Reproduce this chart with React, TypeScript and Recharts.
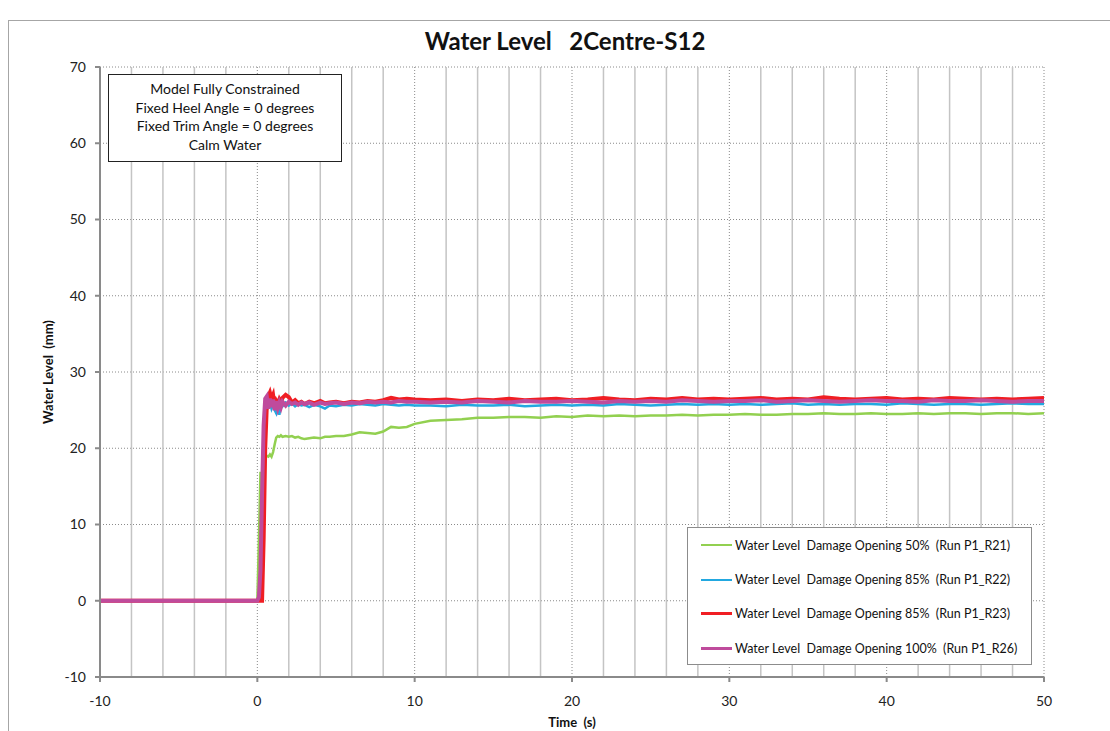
import {
  LineChart,
  Line,
  XAxis,
  YAxis,
  CartesianGrid,
  ReferenceLine,
  Legend,
} from "recharts";

const times = [
  -10, 0, 0.1, 0.2, 0.3, 0.4, 0.5, 0.6, 0.7, 0.8, 0.9, 1.0, 1.1, 1.2, 1.3, 1.4, 1.5, 1.6,
  1.8, 2.0, 2.2, 2.4, 2.6, 2.8, 3.0, 3.3, 3.6, 4.0, 4.3, 4.6, 5.0, 5.5, 6.0, 6.5, 7.0, 7.5,
  8.0, 8.5, 9.0, 9.5, 10, 11, 12, 13, 14, 15, 16, 17, 18, 19, 20, 21, 22, 23, 24, 25, 26,
  27, 28, 29, 30, 31, 32, 33, 34, 35, 36, 37, 38, 39, 40, 41, 42, 43, 44, 45, 46, 47, 48,
  49, 50,
];

const run21 = [
  0, 0, 8, 16.9, 14.5, 17.5, 18.8, 19.0, 18.9, 19.2, 18.9, 19.5, 20.5, 21.4, 21.6, 21.5,
  21.7, 21.5, 21.6, 21.5, 21.6, 21.4, 21.5, 21.3, 21.2, 21.3, 21.4, 21.3, 21.5, 21.5, 21.6,
  21.6, 21.8, 22.1, 22.0, 21.9, 22.2, 22.8, 22.7, 22.8, 23.2,
  23.6, 23.7, 23.8, 24.0, 24.0, 24.1, 24.1, 24.0, 24.2, 24.1, 24.3, 24.2, 24.3, 24.2, 24.3,
  24.3, 24.4, 24.3, 24.4, 24.4, 24.5, 24.4, 24.4, 24.5, 24.5, 24.6, 24.5, 24.5, 24.6, 24.5,
  24.5, 24.6, 24.5, 24.6, 24.6, 24.5, 24.6, 24.6, 24.5, 24.6,
];

const run22 = [
  0, 0, 0, 0, 2, 12, 22, 26.2, 25.5, 26.0, 25.2, 25.8, 25.0, 24.6, 25.6, 24.4, 25.8, 25.5,
  26.0, 25.6, 25.9, 25.5, 25.8, 25.6, 25.7, 25.4, 25.7, 25.5, 25.2, 25.6, 25.5, 25.7, 25.6,
  25.8, 25.7, 25.6, 25.8, 25.7, 25.6, 25.7, 25.6,
  25.6, 25.5, 25.7, 25.6, 25.6, 25.7, 25.5, 25.6, 25.7, 25.6, 25.7, 25.6, 25.8, 25.7, 25.6,
  25.7, 25.8, 25.7, 25.8, 25.7, 25.8, 25.7, 25.8, 25.9, 25.7, 25.8, 25.7, 25.8, 25.8, 25.7,
  25.9, 25.8, 25.7, 25.8, 25.8, 25.7, 25.8, 25.9, 25.8, 25.8,
];

const run23 = [
  0, 0, 0, 0, 0, 8, 20, 25.5, 26.8, 27.3, 26.5, 27.0, 25.5, 26.2, 25.8, 26.4, 26.0, 26.6,
  27.0, 26.7, 26.0, 26.3, 25.9, 26.1, 25.8, 26.1, 25.9, 26.2, 25.9, 26.0, 26.1, 25.9, 26.1,
  26.0, 26.2, 26.1, 26.3, 26.6, 26.4, 26.5, 26.4,
  26.3, 26.4, 26.2, 26.4, 26.3, 26.5, 26.3, 26.4, 26.5, 26.3, 26.4, 26.6, 26.4, 26.3, 26.5,
  26.4, 26.6, 26.4, 26.5, 26.4, 26.5, 26.6, 26.4, 26.5, 26.4, 26.7, 26.5, 26.4, 26.5, 26.6,
  26.4, 26.5, 26.4, 26.6, 26.5, 26.4, 26.5, 26.4, 26.5, 26.6,
];

const run26 = [
  0, 0, 0.5, 4, 14, 23, 26.5, 26.8, 25.2, 26.5, 25.4, 26.4, 25.0, 26.2, 25.3, 26.0, 25.4,
  26.1, 25.6, 26.1, 25.8, 26.0, 25.7, 26.0, 25.8, 26.0, 25.7, 26.0, 25.8, 25.9, 26.0, 25.8,
  26.0, 25.9, 26.1, 26.0, 26.1, 26.0, 26.2, 26.1, 26.1,
  26.0, 26.1, 26.0, 26.2, 26.1, 26.0, 26.2, 26.1, 26.1, 26.2, 26.1, 26.0, 26.2, 26.1, 26.2,
  26.1, 26.3, 26.2, 26.1, 26.2, 26.2, 26.3, 26.1, 26.2, 26.3, 26.2, 26.1, 26.2, 26.3, 26.2,
  26.2, 26.1, 26.3, 26.2, 26.2, 26.3, 26.2, 26.1, 26.2, 26.2,
];

const xTicks = [-10, 0, 10, 20, 30, 40, 50];
const xMinor = [-8, -6, -4, -2, 2, 4, 6, 8, 12, 14, 16, 18, 22, 24, 26, 28, 32, 34, 36, 38, 42, 44, 46, 48];
const yTicks = [-10, 0, 10, 20, 30, 40, 50, 60, 70];

const noteLines = [
  "Model Fully Constrained",
  "Fixed Heel Angle = 0 degrees",
  "Fixed Trim Angle = 0 degrees",
  "Calm Water",
];

const series = [
  { key: "r21", name: "Water Level  Damage Opening 50%  (Run P1_R21)", color: "#92d050", width: 2.5, legendWidth: 2 },
  { key: "r22", name: "Water Level  Damage Opening 85%  (Run P1_R22)", color: "#22a8e0", width: 2.5, legendWidth: 2 },
  { key: "r23", name: "Water Level  Damage Opening 85%  (Run P1_R23)", color: "#f01e23", width: 4, legendWidth: 3 },
  { key: "r26", name: "Water Level  Damage Opening 100%  (Run P1_R26)", color: "#bf4b9c", width: 4, legendWidth: 3 },
];

const data = times.map((t, i) => ({
  t,
  r21: run21[i],
  r22: run22[i],
  r23: run23[i],
  r26: run26[i],
}));

const font = "Lato, 'Open Sans', sans-serif";
const axisColor = "#8a8a8a";

// legend keeps the series order, not the library's sorted payload
const LegendBox = ({ payload }: any) => (
  <div
    style={{
      border: "1px solid #8c8c8c",
      background: "#fff",
      height: 138,
      boxSizing: "border-box",
      paddingTop: 0,
    }}
  >
    {series.map((s) => {
      const p = (payload || []).find((x: any) => x.dataKey === s.key);
      return (
        <div key={s.key} style={{ display: "flex", alignItems: "center", height: 34.4 }}>
          <div style={{ width: 13 }} />
          <div style={{ width: 31, height: s.legendWidth, background: p ? p.color : s.color }} />
          <span style={{ marginLeft: 3, fontSize: 12.5, color: "#111", fontFamily: font, whiteSpace: "pre" }}>
            {p ? p.value : s.name}
          </span>
        </div>
      );
    })}
  </div>
);

export default function App() {
  return (
    <div style={{ position: "absolute", left: 0, top: 0, width: 1110, height: 731, background: "#fff", overflow: "hidden", fontFamily: font }}>
      <div style={{ position: "absolute", left: 8, top: 20, width: 1200, height: 800, border: "1.5px solid #a6a6a6" }} />
      <div style={{ position: "absolute", left: 10, top: 26, width: 1110, textAlign: "center", fontSize: 24, fontWeight: 700, color: "#111", whiteSpace: "pre" }}>
        {"Water Level   2Centre-S12"}
      </div>
      <div style={{ position: "absolute", left: 0, top: 0 }}>
        <LineChart width={1110} height={731} data={data} margin={{ top: 67, right: 66, bottom: 0, left: 40 }}>
          <CartesianGrid stroke={axisColor} strokeDasharray="1 2" strokeWidth={1} />
          {xMinor.map((v) => (
            <ReferenceLine key={v} x={v} stroke="#c4c4c4" strokeWidth={1.5} />
          ))}
          <XAxis
            dataKey="t"
            type="number"
            domain={[-10, 50]}
            ticks={xTicks}
            height={54}
            stroke={axisColor}
            strokeWidth={2}
            tickSize={5}
            tickMargin={14}
            tick={{ fill: "#222", fontSize: 14, fontFamily: font }}
            label={(props: any) => {
              const vb = props.viewBox;
              return (
                <text x={vb.x + vb.width / 2} y={vb.y + vb.height - 4} textAnchor="middle" fontSize={13} fontWeight={700} fill="#111" fontFamily={font} xmlSpace="preserve">
                  Time  (s)
                </text>
              );
            }}
          />
          <YAxis
            type="number"
            domain={[-10, 70]}
            ticks={yTicks}
            width={60}
            stroke={axisColor}
            strokeWidth={2}
            tickSize={5}
            tickMargin={9}
            tick={{ fill: "#222", fontSize: 14, fontFamily: font }}
            label={(props: any) => {
              const vb = props.viewBox;
              const cx = 48;
              const cy = vb.y + vb.height / 2;
              return (
                <text x={cx} y={cy} transform={`rotate(-90 ${cx} ${cy})`} textAnchor="middle" dominantBaseline="central" fontSize={13} fontWeight={700} fill="#111" fontFamily={font} xmlSpace="preserve">
                  Water Level  (mm)
                </text>
              );
            }}
          />
          {series.map((s) => (
            <Line
              key={s.key}
              dataKey={s.key}
              name={s.name}
              type="linear"
              stroke={s.color}
              strokeWidth={s.width}
              dot={false}
              activeDot={false}
              isAnimationActive={false}
            />
          ))}
          <Legend
            layout="vertical"
            align="center"
            verticalAlign="middle"
            content={<LegendBox />}
            wrapperStyle={{ position: "absolute", left: 687, top: 527, width: 345, height: 138 }}
          />
        </LineChart>
      </div>
      <div
        style={{
          position: "absolute",
          left: 108,
          top: 74,
          width: 234,
          height: 88,
          boxSizing: "border-box",
          border: "1px solid #222",
          background: "#fff",
          textAlign: "center",
          fontSize: 14,
          lineHeight: "18.5px",
          paddingTop: 5,
          color: "#111",
        }}
      >
        {noteLines.map((l) => (
          <div key={l}>{l}</div>
        ))}
      </div>
    </div>
  );
}
